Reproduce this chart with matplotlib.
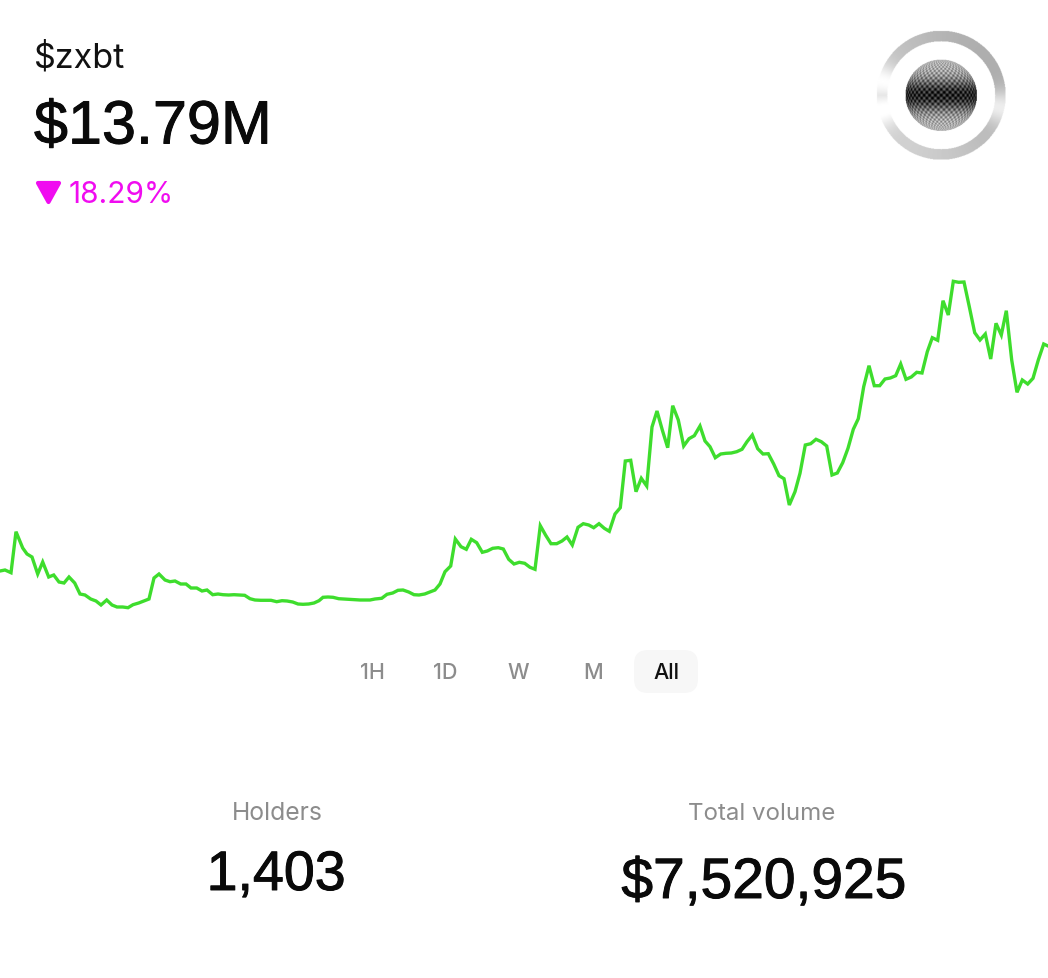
import numpy as np
import matplotlib
matplotlib.use('Agg')
import matplotlib.pyplot as plt
import matplotlib.patheffects as pe
from matplotlib.patches import FancyBboxPatch, Polygon

# =====================================================
# Data
# =====================================================

# time position along the chart, height of the line above the chart floor
times = [
    0, 5, 11, 16, 22.7, 27, 32, 37.7, 42.7, 48.7, 53.7, 59, 64, 69, 74.7, 80, 85, 90.7, 96, 101,
    106.7, 112, 117, 122.7, 128, 133, 138.7, 144, 149, 154, 159, 165, 170, 175, 180.7, 186, 191,
    196.7, 202, 207, 212.7, 218, 223, 228.7, 234, 239, 244.7, 250, 255, 260.7, 266, 271, 276.7,
    282, 287, 292.7, 298, 303, 308.7, 314, 319, 323, 328, 333, 338.7, 344, 350, 360, 370, 375,
    381.7, 387, 392.7, 398, 403, 408.7, 414, 419, 424.7, 430, 435, 440, 445, 450.7, 455.3, 461,
    466.3, 471.3, 476.7, 482.3, 487.3, 492.7, 498.3, 503.3, 508.7, 514, 519.3, 524.7, 530, 535,
    540.3, 545.7, 551, 556.7, 562, 567, 572.3, 578, 583.3, 588.7, 593.7, 599, 604.3, 609.3, 615,
    620.3, 625.3, 630.7, 636, 641.3, 646.7, 652, 657, 662.3, 667.7, 672.7, 678.3, 683.7, 689,
    694.3, 700, 705, 710, 715.3, 720.7, 726, 731.3, 736.7, 742, 747, 752.3, 757.7, 763, 768.3,
    773.7, 779, 784, 789.3, 795, 800, 805.3, 810.7, 816, 821.3, 826.7, 832, 837.3, 842.7, 848,
    853.3, 858.3, 863.7, 869, 874.3, 879.7, 885, 890.3, 895.7, 900.7, 906, 911.3, 916.7, 922,
    927.3, 932.3, 937.7, 943, 948.3, 953.3, 958.7, 964, 969.3, 974.7, 980, 985.3, 990.7, 996,
    1001.3, 1006.3, 1011.7, 1017, 1022.3, 1027.7, 1033, 1038.3, 1043.7, 1048,
]
values = [
    69, 70, 67.3, 108.3, 92, 86, 83, 66, 78, 63, 65, 58, 57, 63, 57, 46, 45, 41, 39, 35,
    40, 35, 33, 33, 32.3, 35.3, 37, 39, 41, 62, 66, 60, 58.3, 59, 56, 56, 52,
    52, 49, 50, 45.3, 46, 45.3, 45, 45.3, 45, 44.7, 41.3, 40, 39.7, 39.7, 39.7, 38.3,
    39.3, 39, 38, 36, 35.7, 36, 37, 39.3, 42.7, 43, 42.7, 41.3, 41, 40.7, 40, 40, 41,
    41.7, 45.7, 47, 49.7, 50, 48, 45.3, 45, 46, 48, 50, 56, 68.3, 74, 101, 93.3,
    90.7, 100.7, 97.3, 87.7, 89, 91.7, 92.3, 91, 80.7, 76, 77.7, 76.7, 72.7, 70.7,
    114.3, 104.7, 96.3, 96.3, 99, 103, 95, 112.7, 116.3, 115, 112.3, 116.3, 111.7, 108.7, 126,
    132.3, 179, 179.7, 148.3, 161.7, 154, 213, 229, 210, 192.3, 234.3, 220, 194, 201.3,
    204.3, 214, 199, 193.3, 182.3, 186, 186.7, 187, 188.3, 190.7, 198.3, 205, 191.3, 186, 186.3,
    176, 164.3, 161.3, 135, 148.3, 166.7, 195, 196.3, 200.7, 198.3, 194, 165, 167, 177.3, 191.7,
    210.7, 221.3, 253.3, 274.3, 254.3, 254.3, 261, 262, 264.3, 276, 260.7, 263, 267.7, 267,
    288.3, 302.3, 299.7, 339.3, 325, 358.7, 357.7, 358, 333.3, 307.3, 300, 306, 281, 316.7,
    305, 329.3, 280, 247.7, 260, 256, 261.7, 280, 296, 294,
]

ranges = ['1H', '1D', 'W', 'M', 'All']

W, H = 1048, 979

def fx(x):
    return x / W

def fy(y):
    return 1 - y / H

fig = plt.figure(figsize=(W / 100, H / 100), dpi=100, facecolor='white')
plt.rcParams['font.family'] = ['Inter', 'Liberation Sans', 'DejaVu Sans']

big_stroke = [pe.withStroke(linewidth=0.7, foreground='#0a0a0a')]

# =====================================================
# Price line
# =====================================================

ax = fig.add_axes([0, fy(641), 1, (641 - 261) / H])
ax.plot(times, values, color='#3edd2d', linewidth=2.4, solid_joinstyle='miter')
ax.set_xlim(0, 1048)
ax.set_ylim(0, 380)
ax.axis('off')

# =====================================================
# Header
# =====================================================

fig.text(fx(34), fy(58), '$zxbt', fontsize=24.5, color='#111111', va='center', ha='left')
fig.text(fx(34), fy(129), '$13.79M', fontsize=44, color='#0a0a0a', va='center', ha='left',
         family=['Liberation Sans'], path_effects=big_stroke)
fig.text(fx(69), fy(195), '18.29%', fontsize=21.5, color='#f00cf0', va='center', ha='left')

overlay = fig.add_axes([0, 0, 1, 1], facecolor='none')
overlay.set_xlim(0, W)
overlay.set_ylim(H, 0)
overlay.axis('off')

overlay.add_patch(Polygon([(38, 184), (59, 184), (48.5, 203)], closed=True, facecolor='#f00cf0',
                          edgecolor='#f00cf0', linewidth=3, joinstyle='round'))

# =====================================================
# Logo: ring and sphere
# =====================================================

cx, cy = 941, 96
gx, gy = np.meshgrid(np.arange(-70, 70, 0.5), np.arange(-70, 70, 0.5))
r = np.hypot(gx, gy)
ang = np.arctan2(gy, gx)

shade = 0.75 + 0.23 * np.exp(-((ang - 0.2) / 0.28) ** 2) + 0.2 * np.exp(-((np.abs(ang) - 2.9) / 0.28) ** 2)
shade = np.clip(shade - 0.07 * np.cos(ang + 0.6), 0, 1)
ring = np.where((r > 54) & (r < 64.5), shade, 1.0)
overlay.imshow(ring, cmap='gray', vmin=0, vmax=1, extent=(cx - 70, cx + 70, cy + 70, cy - 70),
               interpolation='antialiased', aspect='auto', zorder=2)

u = gx / 36.0
v = gy / 36.0
inside = u ** 2 + v ** 2 < 1
lat = np.arcsin(np.clip(v, -1, 1))
lon = np.arcsin(np.clip(u / np.sqrt(np.maximum(1 - v ** 2, 0.01)), -1, 1))
band = 0.3 + 0.55 * np.exp(-(v / 0.45) ** 2)
mesh = 0.5 + 0.5 * np.cos(lat * 38) * np.cos(lon * 38)
dark = np.clip(band + 0.5 * (mesh - 0.5), 0, 1)
sphere = np.where(inside, 1 - dark, 1.0)
overlay.imshow(sphere, cmap='gray', vmin=0, vmax=1, extent=(cx - 70, cx + 70, cy + 70, cy - 70),
               interpolation='antialiased', aspect='auto', alpha=np.where(inside, 1.0, 0.0), zorder=3)
overlay.set_xlim(0, W)
overlay.set_ylim(H, 0)

# =====================================================
# Range selector
# =====================================================

overlay.add_patch(FancyBboxPatch((646, 663), 40, 19, boxstyle='round,pad=12,rounding_size=14',
                                 facecolor='#f7f7f7', edgecolor='none'))
for label, xpos in zip(ranges, [372, 445, 518, 593, 666]):
    fig.text(fx(xpos), fy(673), label, fontsize=15.5, ha='center', va='center', fontweight='medium',
             color='#111111' if label == 'All' else '#8c8c8c')

# =====================================================
# Stats
# =====================================================

fig.text(fx(277), fy(814), 'Holders', fontsize=17.8, color='#8c8c8c', ha='center', va='center')
fig.text(fx(762), fy(814), 'Total volume', fontsize=17.3, color='#8c8c8c', ha='center', va='center')
fig.text(fx(276), fy(877), '1,403', fontsize=40, color='#0a0a0a', ha='center', va='center',
         family=['Liberation Sans'], path_effects=big_stroke)
fig.text(fx(764), fy(884), '$7,520,925', fontsize=41, color='#0a0a0a', ha='center', va='center',
         family=['Liberation Sans'], path_effects=big_stroke)

fig.savefig('out.png', dpi=100)
